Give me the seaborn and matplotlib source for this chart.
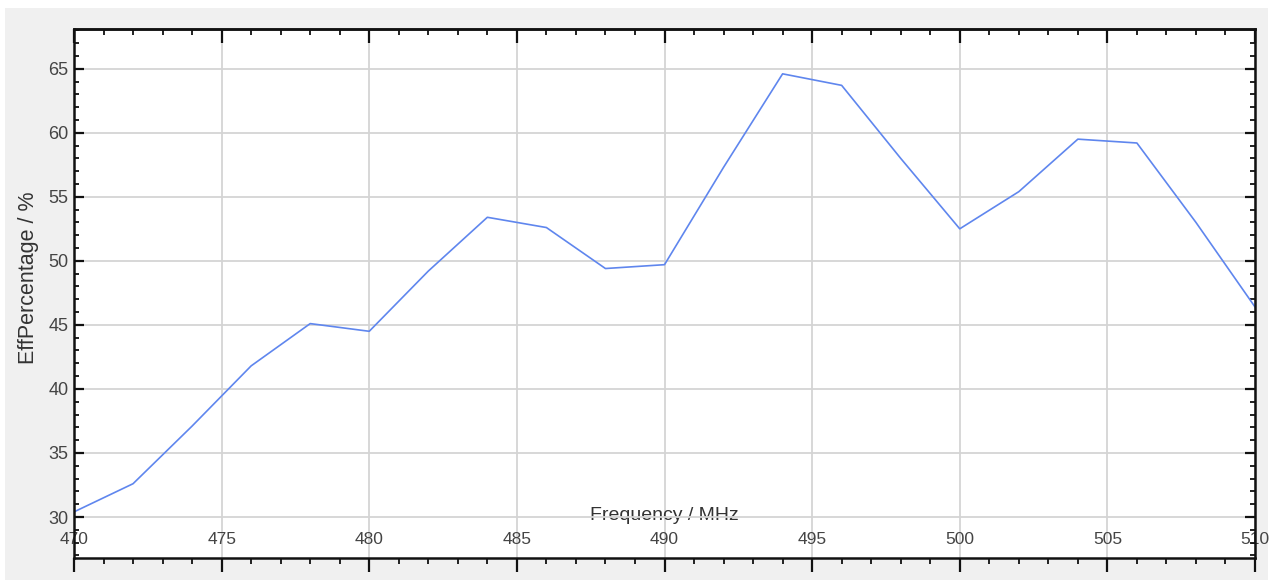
import matplotlib
matplotlib.use("Agg")
import matplotlib.pyplot as plt
from matplotlib.ticker import MultipleLocator
from matplotlib.patches import Rectangle
import seaborn as sns
import pandas as pd

# ---- data ----
freq_mhz = [470, 472, 474, 476, 478, 480, 482, 484, 486, 488, 490,
            492, 494, 496, 498, 500, 502, 504, 506, 508, 510]
eff_pct = [30.4, 32.6, 37.1, 41.8, 45.1, 44.5, 49.2, 53.4, 52.6, 49.4, 49.7,
           57.3, 64.6, 63.7, 58.0, 52.5, 55.4, 59.5, 59.2, 53.0, 46.4]
x_label = "Frequency / MHz"
y_label = "EffPercentage / %"

df = pd.DataFrame({"freq": freq_mhz, "eff": eff_pct})

sns.set_style("ticks")
plt.rcParams["font.family"] = ["Liberation Sans", "DejaVu Sans"]

W, H = 1277, 580
fig = plt.figure(figsize=(W / 100, H / 100), dpi=100, facecolor="white")
fig.patches.append(Rectangle((5 / W, 0), (1268 - 5) / W, (H - 8) / H,
                             transform=fig.transFigure, facecolor="#f0f0f0",
                             edgecolor="none", zorder=-10))

left, right, top, bottom = 74, 1255, 29, 558
ax = fig.add_axes([left / W, 1 - bottom / H, (right - left) / W, (bottom - top) / H])
ax.set_facecolor("white")

sns.lineplot(data=df, x="freq", y="eff", ax=ax, color="#5f86ee", linewidth=1.2)

ax.set_xlim(470, 510)
ax.set_ylim(26.8, 68.1)
ax.xaxis.set_major_locator(MultipleLocator(5))
ax.xaxis.set_minor_locator(MultipleLocator(1))
ax.yaxis.set_major_locator(MultipleLocator(5))
ax.yaxis.set_minor_locator(MultipleLocator(1))

ax.grid(True, which="major", color="#d4d4d4", linewidth=1.3)
ax.set_axisbelow(True)

for s in ax.spines.values():
    s.set_visible(True)
    s.set_color("#111111")
    s.set_linewidth(1.8)

tick_col = "#111111"
ax.tick_params(axis="x", which="major", direction="out", length=10, width=1.6,
               color=tick_col, bottom=True, top=False, pad=-28.5, labelsize=12.5,
               labelcolor="#444444")
ax.tick_params(axis="x", which="minor", direction="out", length=4, width=1.3,
               color=tick_col, bottom=True, top=False)
ax.tick_params(axis="y", which="major", direction="in", length=7, width=1.6,
               color=tick_col, left=True, right=True, labelsize=13,
               labelcolor="#444444", pad=4)
ax.tick_params(axis="y", which="minor", direction="in", length=3.5, width=1.3,
               color=tick_col, left=True, right=True)

sec = ax.secondary_xaxis("top")
sec.set_zorder(5)
sec.xaxis.set_major_locator(MultipleLocator(5))
sec.xaxis.set_minor_locator(MultipleLocator(1))
sec.tick_params(axis="x", which="major", direction="in", length=10, width=1.6,
                color=tick_col, labeltop=False)
sec.tick_params(axis="x", which="minor", direction="in", length=4, width=1.3,
                color=tick_col)
sec.spines["top"].set_linewidth(1.8)
sec.spines["top"].set_color("#111111")

ax.set_xlabel(x_label, fontsize=14, color="#333333")
ax.xaxis.set_label_coords(0.5, 0.097)
ax.set_ylabel(y_label, fontsize=15.5, color="#333333")
ax.yaxis.set_label_coords(-0.03, 0.53)

fig.savefig("out.png", dpi=100, facecolor=fig.get_facecolor())
